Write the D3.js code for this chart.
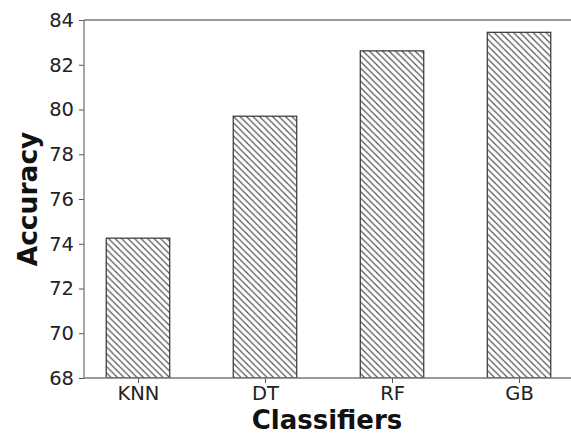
<!DOCTYPE html>
<html>
<head>
<meta charset="utf-8">
<script src="https://cdn.jsdelivr.net/npm/d3@7"></script>
<style>
  html, body { margin: 0; padding: 0; background: #fff; }
  svg { display: block; }
</style>
</head>
<body>
<svg id="chart" width="571" height="433"></svg>
<script>
const categories = ["KNN", "DT", "RF", "GB"];
const accuracy = [74.25, 79.7, 82.62, 83.45];
const yTicks = [68, 70, 72, 74, 76, 78, 80, 82, 84];

const svg = d3.select("#chart");
const plot = { left: 84, right: 573, top: 20, bottom: 378 };
const fontFamily = "'DejaVu Sans', sans-serif";

// Bars sit at integer positions with width 0.5, plus a 5% margin on either side
const x = d3.scaleLinear().domain([-0.425, 3.425]).range([plot.left, plot.right]);
const y = d3.scaleLinear().domain([68, 84]).range([plot.bottom, plot.top]);
const barW = x(0.5) - x(0);

// Back-slash hatch fill
const P = 6.5;
const defs = svg.append("defs");
const pat = defs.append("pattern")
  .attr("id", "hatch")
  .attr("patternUnits", "userSpaceOnUse")
  .attr("width", P).attr("height", P);
pat.append("rect").attr("width", P).attr("height", P).attr("fill", "#fff");
pat.append("path")
  .attr("d", `M0,0 L${P},${P} M-1,${P - 1} L1,${P + 1} M${P - 1},-1 L${P + 1},1`)
  .attr("stroke", "#555").attr("stroke-width", 1.2);

defs.append("clipPath").attr("id", "clip")
  .append("rect").attr("x", plot.left).attr("y", plot.top)
  .attr("width", plot.right - plot.left).attr("height", plot.bottom - plot.top);

// Bars
svg.append("g").attr("clip-path", "url(#clip)")
  .selectAll("rect").data(categories).join("rect")
  .attr("x", (d, i) => x(i) - barW / 2)
  .attr("y", (d, i) => y(accuracy[i]))
  .attr("width", barW)
  .attr("height", (d, i) => y(68) - y(accuracy[i]))
  .attr("fill", "url(#hatch)")
  .attr("stroke", "#333")
  .attr("stroke-width", 1.2);

// Axes
const xAxis = d3.axisBottom(x).tickValues(d3.range(categories.length))
  .tickFormat(i => categories[i]).tickSize(5).tickPadding(3);
const yAxis = d3.axisLeft(y).tickValues(yTicks).tickSize(5).tickPadding(5);

const gx = svg.append("g").attr("transform", `translate(0,${plot.bottom})`).call(xAxis);
const gy = svg.append("g").attr("transform", `translate(${plot.left},0)`).call(yAxis);
[gx, gy].forEach(g => {
  g.select(".domain").remove();
  g.selectAll(".tick line").attr("stroke", "#555").attr("stroke-width", 1);
  g.selectAll(".tick text").attr("fill", "#222")
    .style("font-family", fontFamily).style("font-size", "19.5px");
});

// Spines
const spine = svg.append("g").attr("stroke", "#777").attr("stroke-width", 1.3).attr("fill", "none");
spine.append("line").attr("x1", plot.left).attr("x2", plot.left).attr("y1", plot.top).attr("y2", plot.bottom);
spine.append("line").attr("x1", plot.left).attr("x2", plot.right).attr("y1", plot.bottom).attr("y2", plot.bottom);
spine.append("line").attr("x1", plot.left).attr("x2", plot.right).attr("y1", plot.top).attr("y2", plot.top);
spine.append("line").attr("x1", plot.right).attr("x2", plot.right).attr("y1", plot.top).attr("y2", plot.bottom);

// Axis titles
svg.append("text")
  .attr("x", 327).attr("y", 428.5)
  .attr("text-anchor", "middle")
  .style("font-family", fontFamily).style("font-weight", "bold").style("font-size", "26px")
  .attr("fill", "#111")
  .text("Classifiers");

svg.append("text")
  .attr("transform", "translate(37,199) rotate(-90)")
  .attr("text-anchor", "middle")
  .style("font-family", fontFamily).style("font-weight", "bold").style("font-size", "26.5px")
  .attr("fill", "#111")
  .text("Accuracy");
</script>
</body>
</html>
